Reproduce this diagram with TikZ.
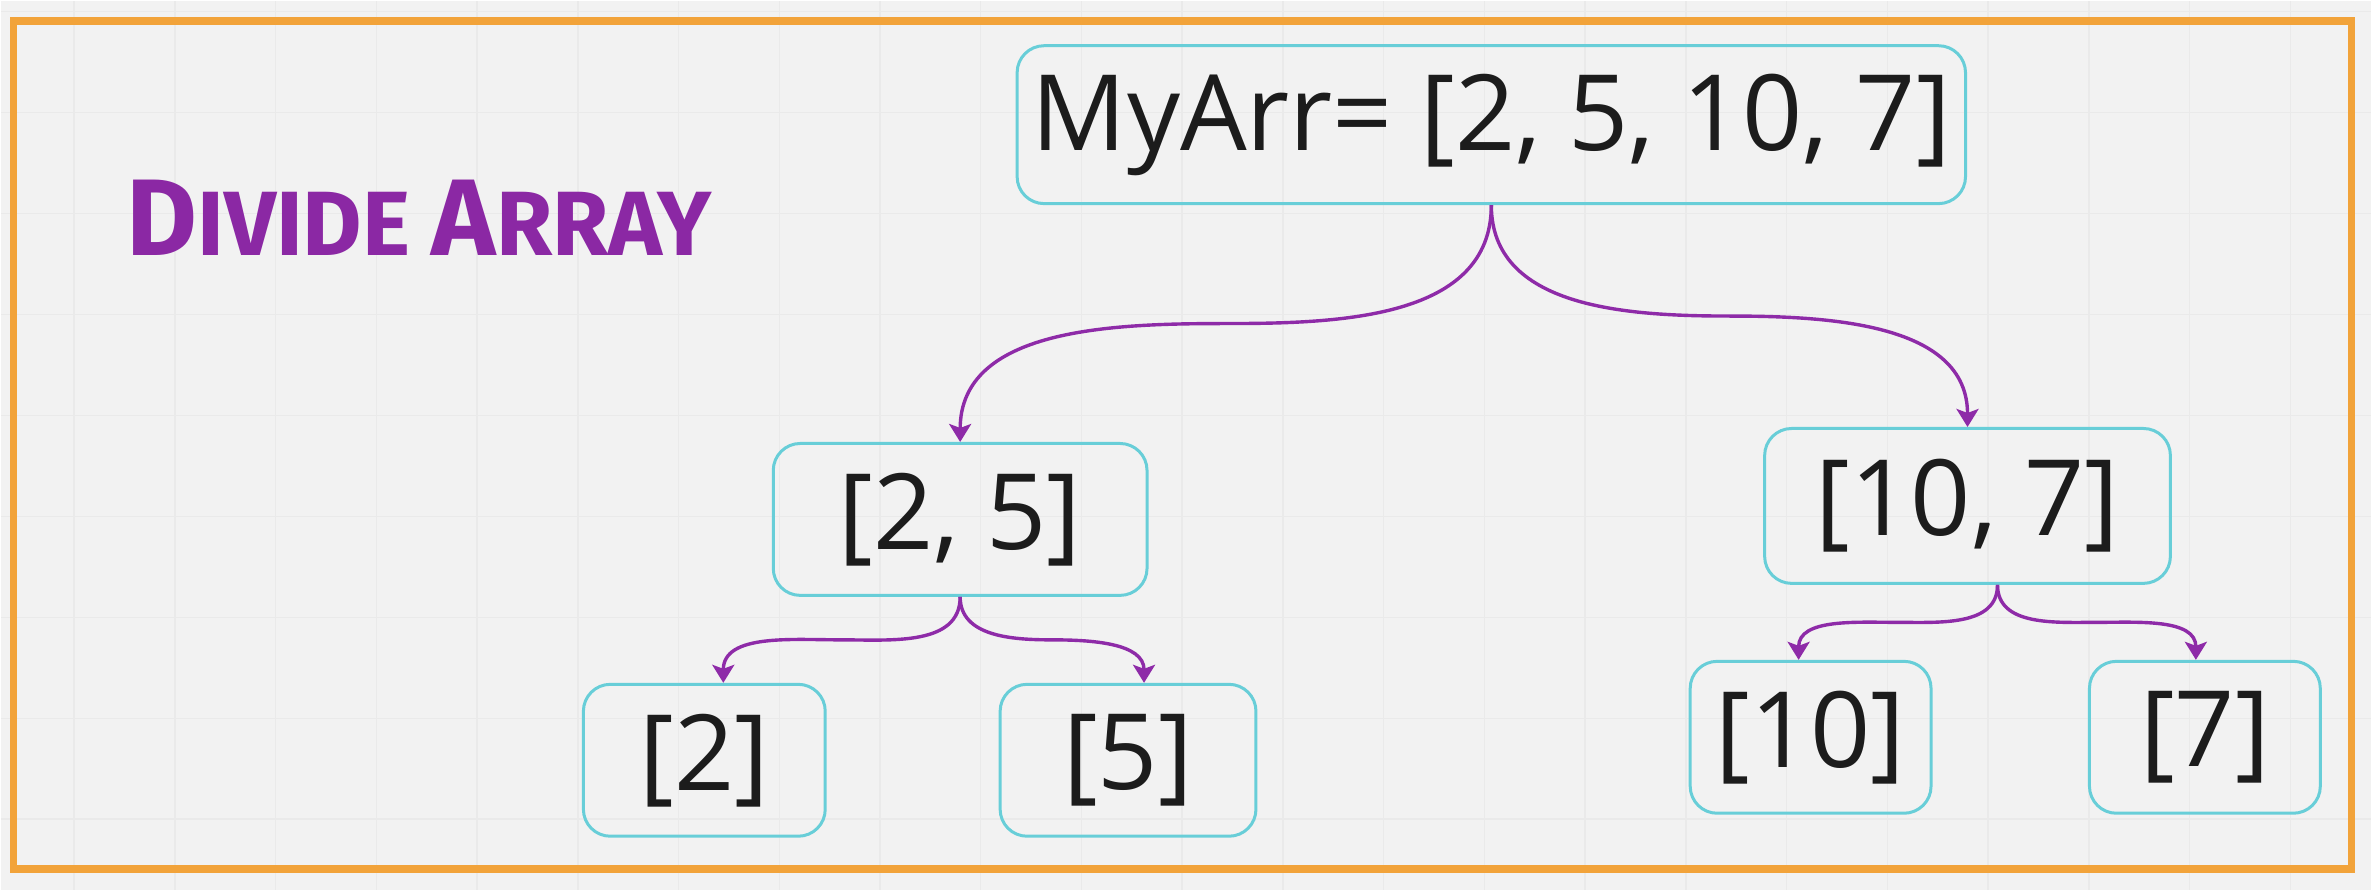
\documentclass[tikz,border=0pt]{standalone}
\usepackage{fontspec}
\setmainfont{Open Sans}
\newfontfamily\markerfont{Fira Sans}
\usetikzlibrary{arrows.meta,calc}

\definecolor{bgcol}{HTML}{F2F2F2}
\definecolor{gridcol}{HTML}{EAEAEA}
\definecolor{framecol}{HTML}{F2A33A}
\definecolor{boxcol}{HTML}{68CED8}
\definecolor{linkcol}{HTML}{8E2BA8}
\definecolor{titlecol}{HTML}{8B28A4}
\definecolor{textcol}{HTML}{1C1C1C}

\tikzset{
  arrbox/.style={draw=boxcol, line width=0.03cm, rounded corners=0.27cm,
    minimum height=1.52cm, inner sep=0pt, text=textcol,
    font=\fontsize{30}{36}\selectfont},
  link/.style={draw=linkcol, line width=0.034cm,
    -{Stealth[length=0.18cm,width=0.22cm,inset=0.04cm]}},
  gridline/.style={draw=gridcol, line width=0.015cm}
}

\begin{document}
\begin{tikzpicture}
  % board and grid
  \fill[bgcol] (0,0) rectangle (23.72,8.90);
  \foreach \k in {0,...,22}
    \draw[gridline] ({0.734+1.008*\k},0) -- ({0.734+1.008*\k},8.90);
  \foreach \k in {0,...,8}
    \draw[gridline] (0,{8.79-1.01*\k}) -- (23.72,{8.79-1.01*\k});
  \draw[framecol, line width=0.075cm] (0.13,0.21) rectangle (23.52,8.695);

  \node[text=titlecol, anchor=base west, inner sep=0pt] (title) at (1.25,6.35)
    {\markerfont\bfseries\fontsize{31}{31}\selectfont D\fontsize{26}{26}\selectfont IVIDE
     \fontsize{31}{31}\selectfont A\fontsize{26}{26}\selectfont RRAY};

  % arrays
  \node[arrbox, minimum width=9.49cm, minimum height=1.58cm] (arr) at (14.915,7.66) {MyArr= [2, 5, 10, 7]};
  \node[arrbox, minimum width=3.74cm] (left) at (9.60,3.71) {[2, 5]};
  \node[arrbox, minimum width=4.06cm, minimum height=1.55cm] (right) at (19.68,3.845) {[10, 7]};
  \node[arrbox, minimum width=2.42cm] (two) at (7.04,1.30) {[2]};
  \node[arrbox, minimum width=2.56cm] (five) at (11.28,1.30) {[5]};
  \node[arrbox, minimum width=2.41cm] (ten) at (18.11,1.53) {[10]};
  \node[arrbox, minimum width=2.31cm] (seven) at (22.055,1.53) {[7]};

  % splits
  \draw[link] (arr.south) to[out=-90,in=0] ($(arr.south)!0.5!(left.north)$) to[out=180,in=90] (left.north);
  \draw[link] (arr.south) to[out=-90,in=180] ($(arr.south)!0.5!(right.north)$) to[out=0,in=90] (right.north);
  \draw[link] (left.south) to[out=-90,in=0] ($(left.south)!0.5!([xshift=0.19cm]two.north)$) to[out=180,in=90] ([xshift=0.19cm]two.north);
  \draw[link] (left.south) to[out=-90,in=180] ($(left.south)!0.5!([xshift=0.16cm]five.north)$) to[out=0,in=90] ([xshift=0.16cm]five.north);
  \draw[link] ([xshift=0.30cm]right.south) to[out=-90,in=0] ($([xshift=0.30cm]right.south)!0.5!([xshift=-0.12cm]ten.north)$) to[out=180,in=90] ([xshift=-0.12cm]ten.north);
  \draw[link] ([xshift=0.30cm]right.south) to[out=-90,in=180] ($([xshift=0.30cm]right.south)!0.5!([xshift=-0.09cm]seven.north)$) to[out=0,in=90] ([xshift=-0.09cm]seven.north);
\end{tikzpicture}
\end{document}
